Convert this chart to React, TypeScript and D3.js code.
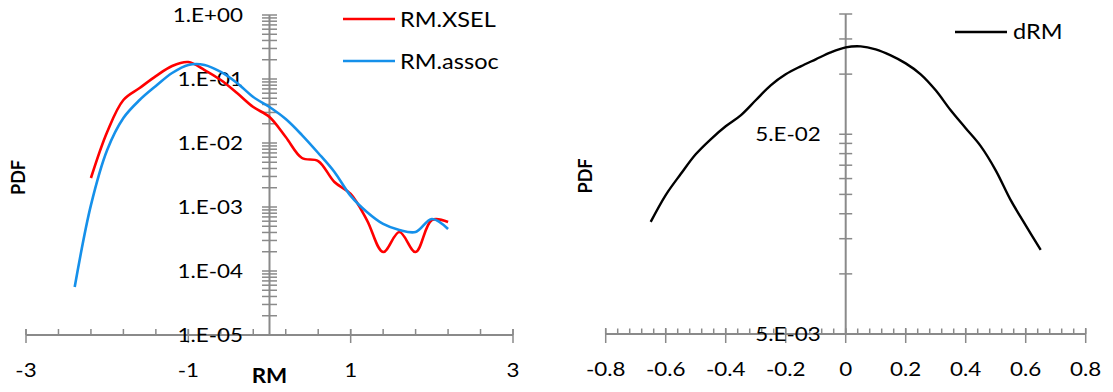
import { useEffect, useRef } from "react";
import * as d3 from "d3";

const W = 1113;
const H = 392;

// Left panel: RM distributions (log PDF)
const xselX = [-2.2, -2.0, -1.8, -1.6, -1.4, -1.2, -1.0, -0.8, -0.6, -0.4, -0.2, 0, 0.2, 0.4, 0.6, 0.8, 1.0, 1.2, 1.4, 1.6, 1.8, 2.0, 2.2];
const xselPdf = [2.84e-3, 1.49e-2, 4.7e-2, 7.23e-2, 0.111, 0.16, 0.184, 0.138, 0.0964, 0.0604, 0.0365, 0.0255, 0.0124, 5.83e-3, 5.23e-3, 2.46e-3, 1.6e-3, 6.26e-4, 1.98e-4, 4.07e-4, 1.98e-4, 6.26e-4, 5.83e-4];
const assocX = [-2.4, -2.2, -2.0, -1.8, -1.6, -1.4, -1.2, -1.0, -0.8, -0.6, -0.4, -0.2, 0, 0.2, 0.4, 0.6, 0.8, 1.0, 1.2, 1.4, 1.6, 1.8, 2.0, 2.2];
const assocPdf = [5.62e-5, 1.07e-3, 7.78e-3, 0.0246, 0.047, 0.0778, 0.124, 0.166, 0.166, 0.129, 0.0866, 0.0523, 0.0365, 0.0237, 0.0133, 6.98e-3, 3.52e-3, 1.49e-3, 8.35e-4, 5.43e-4, 4.37e-4, 4.07e-4, 6.49e-4, 4.53e-4];
const leftXTicks = [-3, -1, 1, 3];
const leftXLabels = ["-3", "-1", "1", "3"];
const leftYTicks = [1e-5, 1e-4, 1e-3, 1e-2, 1e-1, 1];
const leftYLabels = ["1.E-05", "1.E-04", "1.E-03", "1.E-02", "1.E-01", "1.E+00"];

// Right panel: dRM
const dX = [-0.65, -0.6, -0.55, -0.5, -0.45, -0.4, -0.35, -0.3, -0.25, -0.2, -0.15, -0.1, -0.05, 0, 0.05, 0.1, 0.15, 0.2, 0.25, 0.3, 0.35, 0.4, 0.45, 0.5, 0.55, 0.6, 0.65];
const dPdf = [0.0182, 0.0248, 0.0316, 0.0397, 0.0472, 0.0548, 0.0622, 0.074, 0.0879, 0.0998, 0.1094, 0.1186, 0.1285, 0.1361, 0.1377, 0.133, 0.1241, 0.1132, 0.0998, 0.083, 0.0659, 0.0536, 0.0436, 0.033, 0.0234, 0.0175, 0.0132];
const rightXTicks = [-0.8, -0.6, -0.4, -0.2, 0, 0.2, 0.4, 0.6, 0.8];
const rightXLabels = ["-0.8", "-0.6", "-0.4", "-0.2", "0", "0.2", "0.4", "0.6", "0.8"];
const rightYTicks = [5e-3, 5e-2];
const rightYLabels = ["5.E-03", "5.E-02"];

const AXIS = "#8a8a8a";
const SX = 1.12; // reference is horizontally stretched
const FONT = "Lato, 'Open Sans', sans-serif";

type Sel = d3.Selection<SVGGElement, unknown, null, undefined>;

function label(
  g: Sel,
  x: number,
  y: number,
  txt: string,
  anchor: string,
  size: number,
  weight = "normal"
) {
  g.append("text")
    .attr("transform", `translate(${x},${y}) scale(${SX},1)`)
    .attr("text-anchor", anchor)
    .attr("font-size", size)
    .attr("font-weight", weight)
    .attr("font-family", FONT)
    .attr("fill", "#000")
    .text(txt);
}

function logMinor(lo: number, hi: number) {
  // minor ticks at k * base for each decade starting at lo
  const out: number[] = [];
  let base = lo;
  while (base < hi * 0.999) {
    for (let k = 2; k <= 9; k++) {
      const v = base * k;
      if (v <= hi * 1.0001) out.push(v);
    }
    base *= 10;
  }
  return out;
}

export default function App() {
  const svgRef = useRef<SVGSVGElement>(null);

  useEffect(() => {
    document.body.style.margin = "0";
    if (!svgRef.current) return;
    const svg = d3.select(svgRef.current);
    svg.selectAll("*").remove();
    const root = svg.append("g") as Sel;

    const line = (x: d3.ScaleLinear<number, number>, y: d3.ScaleLogarithmic<number, number>) =>
      d3
        .line<[number, number]>()
        .x((d) => x(d[0]))
        .y((d) => y(d[1]))
        .curve(d3.curveCatmullRom.alpha(0.5));

    // ---------- Left panel ----------
    const xL = d3.scaleLinear().domain([-3, 3]).range([26, 513]);
    const yL = d3.scaleLog().domain([1e-5, 1]).range([335, 15]);
    const gL = root.append("g") as Sel;
    const y0L = yL(1e-5);
    const axL = xL(0);

    // x axis
    gL.append("line")
      .attr("x1", xL(-3)).attr("x2", xL(3))
      .attr("y1", y0L).attr("y2", y0L)
      .attr("stroke", AXIS).attr("stroke-width", 2);
    gL.selectAll(".xminor")
      .data(d3.range(-3, 3.01, 0.4))
      .join("line")
      .attr("x1", (d) => xL(d)).attr("x2", (d) => xL(d))
      .attr("y1", y0L - 6).attr("y2", y0L)
      .attr("stroke", AXIS).attr("stroke-width", 1.5);
    gL.selectAll(".xmajor")
      .data(leftXTicks)
      .join("line")
      .attr("x1", (d) => xL(d)).attr("x2", (d) => xL(d))
      .attr("y1", y0L - 6).attr("y2", y0L + 8)
      .attr("stroke", AXIS).attr("stroke-width", 1.5);

    // y axis
    gL.append("line")
      .attr("x1", axL).attr("x2", axL)
      .attr("y1", yL(1)).attr("y2", y0L)
      .attr("stroke", AXIS).attr("stroke-width", 2);
    gL.selectAll(".yticks")
      .data([...leftYTicks, ...logMinor(1e-5, 1)])
      .join("line")
      .attr("x1", axL - 7.5).attr("x2", axL + 7.5)
      .attr("y1", (d) => yL(d)).attr("y2", (d) => yL(d))
      .attr("stroke", AXIS).attr("stroke-width", 1.5);

    leftYTicks.forEach((t, i) => label(gL, axL - 26.5, yL(t) + 7, leftYLabels[i], "end", 20));
    leftXTicks.forEach((t, i) => label(gL, xL(t), 377, leftXLabels[i], "middle", 20));
    label(gL, axL, 383, "RM", "middle", 20, "bold");
    gL.append("text")
      .attr("transform", "translate(25,177.5) rotate(-90)")
      .attr("text-anchor", "middle")
      .attr("font-size", 18)
      .attr("font-weight", "bold")
      .attr("font-family", FONT)
      .text("PDF");

    gL.append("path")
      .datum(xselX.map((v, i) => [v, xselPdf[i]] as [number, number]))
      .attr("d", line(xL, yL))
      .attr("fill", "none").attr("stroke", "#ff0000").attr("stroke-width", 2.6);
    gL.append("path")
      .datum(assocX.map((v, i) => [v, assocPdf[i]] as [number, number]))
      .attr("d", line(xL, yL))
      .attr("fill", "none").attr("stroke", "#1590ea").attr("stroke-width", 2.6);

    // legend
    const legL = [
      { name: "RM.XSEL", color: "#ff0000", y: 19 },
      { name: "RM.assoc", color: "#1590ea", y: 61 },
    ];
    legL.forEach((d) => {
      gL.append("line")
        .attr("x1", 343).attr("x2", 395)
        .attr("y1", d.y).attr("y2", d.y)
        .attr("stroke", d.color).attr("stroke-width", 2.6);
      label(gL, 400, d.y + 7.5, d.name, "start", 21);
    });

    // ---------- Right panel ----------
    const xR = d3.scaleLinear().domain([-0.8, 0.8]).range([605.7, 1085.7]);
    const yR = d3.scaleLog().domain([5e-3, 0.2]).range([334, 14]);
    const gR = root.append("g") as Sel;
    const y0R = yR(5e-3);
    const axR = xR(0);

    gR.append("line")
      .attr("x1", xR(-0.8)).attr("x2", xR(0.8))
      .attr("y1", y0R).attr("y2", y0R)
      .attr("stroke", AXIS).attr("stroke-width", 2);
    gR.selectAll(".xminor")
      .data(d3.range(-0.8, 0.801, 0.04))
      .join("line")
      .attr("x1", (d) => xR(d)).attr("x2", (d) => xR(d))
      .attr("y1", y0R - 5.5).attr("y2", y0R)
      .attr("stroke", AXIS).attr("stroke-width", 1.5);
    gR.selectAll(".xmajor")
      .data(rightXTicks)
      .join("line")
      .attr("x1", (d) => xR(d)).attr("x2", (d) => xR(d))
      .attr("y1", y0R - 6).attr("y2", y0R + 9)
      .attr("stroke", AXIS).attr("stroke-width", 1.5);

    gR.append("line")
      .attr("x1", axR).attr("x2", axR)
      .attr("y1", yR(0.2)).attr("y2", y0R)
      .attr("stroke", AXIS).attr("stroke-width", 2);
    gR.selectAll(".yticks")
      .data([...rightYTicks, ...logMinor(5e-3, 0.2)])
      .join("line")
      .attr("x1", axR - 6.5).attr("x2", axR + 6.5)
      .attr("y1", (d) => yR(d)).attr("y2", (d) => yR(d))
      .attr("stroke", AXIS).attr("stroke-width", 1.5);

    rightYTicks.forEach((t, i) => label(gR, axR - 25, yR(t) + 7, rightYLabels[i], "end", 20));
    rightXTicks.forEach((t, i) => label(gR, xR(t), 376, rightXLabels[i], "middle", 20));
    gR.append("text")
      .attr("transform", "translate(592,176) rotate(-90)")
      .attr("text-anchor", "middle")
      .attr("font-size", 18)
      .attr("font-weight", "bold")
      .attr("font-family", FONT)
      .text("PDF");

    gR.append("path")
      .datum(dX.map((v, i) => [v, dPdf[i]] as [number, number]))
      .attr("d", line(xR, yR))
      .attr("fill", "none").attr("stroke", "#000").attr("stroke-width", 2.4);

    gR.append("line")
      .attr("x1", 955).attr("x2", 1007)
      .attr("y1", 32).attr("y2", 32)
      .attr("stroke", "#000").attr("stroke-width", 2.4);
    label(gR, 1013, 39, "dRM", "start", 21);
  }, []);

  return (
    <svg
      ref={svgRef}
      width={W}
      height={H}
      style={{ display: "block", background: "#fff" }}
    />
  );
}
